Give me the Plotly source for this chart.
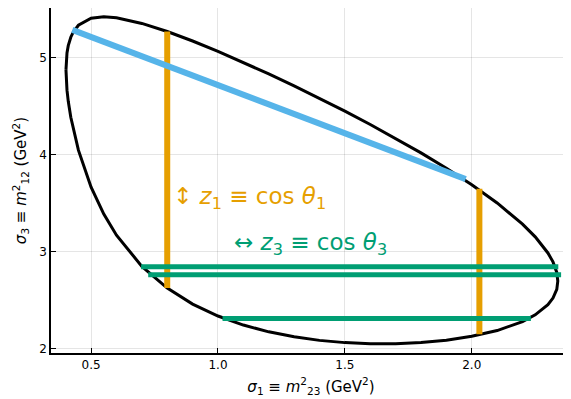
import plotly.graph_objects as go

# Dalitz boundary, upper branch (sigma1, sigma3)
upper_s1 = [0.401, 0.405, 0.41, 0.42, 0.43, 0.45, 0.50, 0.55, 0.60, 0.70, 0.80, 0.90, 1.00, 1.10, 1.20, 1.30,
            1.40, 1.50, 1.60, 1.70, 1.80, 1.90, 2.00, 2.10, 2.20, 2.25, 2.30, 2.32, 2.335, 2.339]
upper_s3 = [4.873, 5.048, 5.123, 5.210, 5.264, 5.333, 5.405, 5.420, 5.410, 5.352, 5.269, 5.171, 5.064, 4.951,
            4.832, 4.709, 4.581, 4.449, 4.311, 4.168, 4.018, 3.860, 3.690, 3.502, 3.284, 3.153, 2.987, 2.895,
            2.786, 2.697]
# lower branch, from right to left
lower_s1 = [2.339, 2.335, 2.32, 2.30, 2.25, 2.20, 2.10, 2.00, 1.90, 1.80, 1.70, 1.60, 1.50, 1.40, 1.30,
            1.20, 1.10, 1.00, 0.90, 0.80, 0.70, 0.60, 0.55, 0.50, 0.45, 0.43, 0.42, 0.41, 0.405, 0.401]
lower_s3 = [2.697, 2.612, 2.522, 2.454, 2.349, 2.280, 2.187, 2.128, 2.088, 2.064, 2.052, 2.052, 2.063, 2.086,
            2.123, 2.174, 2.244, 2.337, 2.460, 2.625, 2.849, 3.170, 3.387, 3.665, 4.046, 4.255, 4.385, 4.549,
            4.664, 4.873]

# blue line (diagonal)
blue_s1 = [0.426, 1.976]
blue_s3 = [5.285, 3.748]

# orange vertical lines: sigma1 position, sigma3 from, sigma3 to
orange_s1 = [0.80, 2.03]
orange_lo = [2.625, 2.150]
orange_hi = [5.269, 3.648]

# green horizontal lines: sigma3 position, sigma1 from, sigma1 to
green_s3 = [2.845, 2.762, 2.312]
green_lo = [0.697, 0.725, 1.018]
green_hi = [2.341, 2.352, 2.233]

x_ticks = [0.5, 1.0, 1.5, 2.0]
x_tick_text = ["0.5", "1.0", "1.5", "2.0"]
y_ticks = [2, 3, 4, 5]
y_tick_text = ["2", "3", "4", "5"]

BLACK = "#000000"
BLUE = "#56B4E9"
ORANGE = "#E69F00"
GREEN = "#009E73"

fig = go.Figure()

fig.add_trace(go.Scatter(x=upper_s1 + lower_s1, y=upper_s3 + lower_s3, mode="lines",
                         line=dict(color=BLACK, width=3), showlegend=False, hoverinfo="skip"))

for s1, lo, hi in zip(orange_s1, orange_lo, orange_hi):
    fig.add_trace(go.Scatter(x=[s1, s1], y=[lo, hi], mode="lines",
                             line=dict(color=ORANGE, width=6), showlegend=False, hoverinfo="skip"))

fig.add_trace(go.Scatter(x=blue_s1, y=blue_s3, mode="lines",
                         line=dict(color=BLUE, width=6), showlegend=False, hoverinfo="skip"))

for s3, lo, hi in zip(green_s3, green_lo, green_hi):
    fig.add_trace(go.Scatter(x=[lo, hi], y=[s3, s3], mode="lines",
                             line=dict(color=GREEN, width=5), showlegend=False, hoverinfo="skip"))

fig.add_annotation(x=0.815, y=3.555, xanchor="left", yanchor="middle", showarrow=False,
                   text="↕ <i>z</i><sub>1</sub> ≡ cos <i>θ</i><sub>1</sub>",
                   font=dict(family="DejaVu Sans", size=23, color=ORANGE))
fig.add_annotation(x=1.055, y=3.081, xanchor="left", yanchor="middle", showarrow=False,
                   text="↔ <i>z</i><sub>3</sub> ≡ cos <i>θ</i><sub>3</sub>",
                   font=dict(family="DejaVu Sans", size=23, color=GREEN))

axis_common = dict(showgrid=True, gridcolor="rgba(0,0,0,0.1)", gridwidth=1,
                   showline=True, linecolor="black", linewidth=1.5,
                   ticks="inside", ticklen=5, tickcolor="black", zeroline=False,
                   automargin=False,
                   tickfont=dict(family="DejaVu Sans", size=12, color="black"))

fig.update_xaxes(range=[0.342, 2.391], tickvals=x_ticks, ticktext=x_tick_text,
                 title=dict(text="<i>σ</i><sub>1</sub> ≡ <i>m</i><sup>2</sup><sub>23</sub> (GeV<sup>2</sup>)",
                            font=dict(family="DejaVu Sans", size=15, color="black"), standoff=10),
                 **axis_common)
fig.update_yaxes(range=[1.956, 5.511], tickvals=y_ticks, ticktext=y_tick_text,
                 title=dict(text="<i>σ</i><sub>3</sub> ≡ <i>m</i><sup>2</sup><sub>12</sub> (GeV<sup>2</sup>)",
                            font=dict(family="DejaVu Sans", size=15, color="black"), standoff=9),
                 **axis_common)

fig.update_layout(width=571, height=399, margin=dict(l=43, r=8, t=0, b=54, autoexpand=False),
                  plot_bgcolor="white", paper_bgcolor="white")

fig.write_html("out.html")
